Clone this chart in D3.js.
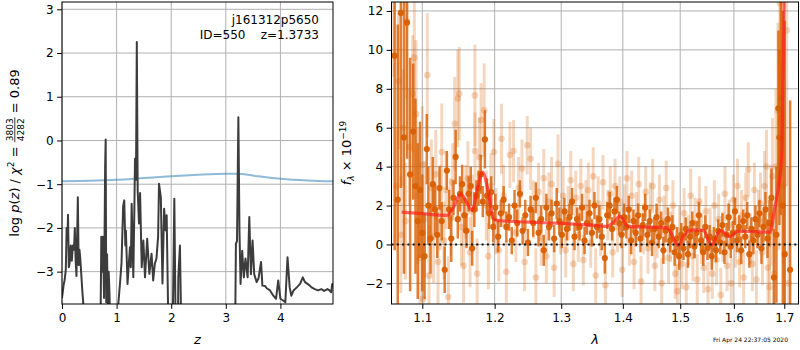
<!DOCTYPE html>
<html>
<head>
<meta charset="utf-8">
<script src="https://cdn.jsdelivr.net/npm/d3@7"></script>
<style>
  html, body { margin: 0; padding: 0; background: #fff; }
  svg { display: block; font-family: "DejaVu Sans", sans-serif; }
</style>
</head>
<body>
<svg id="fig" width="800" height="350"></svg>
<script>
// ---------- redshift fit: log p(z) and normalised chi-square ----------
const zGrid = [
  0.00,0.03,0.05,0.07,0.085,0.10,0.11,0.125,0.14,0.16,
  0.18,0.20,0.22,0.235,0.25,0.265,0.29,0.305,0.32,0.335,
  0.35,0.37,0.40,0.45,0.55,0.65,0.70,0.72,0.735,0.75,
  0.77,0.79,0.80,0.81,0.825,0.84,0.855,0.87,0.885,0.92,
  0.98,1.03,1.06,1.09,1.12,1.14,1.16,1.17,1.20,1.225,
  1.245,1.26,1.276,1.29,1.306,1.325,1.337,1.355,1.37,1.386,
  1.41,1.43,1.46,1.49,1.52,1.56,1.60,1.64,1.67,1.70,
  1.73,1.76,1.777,1.81,1.84,1.87,1.90,1.917,1.94,1.96,
  2.02,2.045,2.057,2.075,2.09,2.12,2.13,2.16,2.175,2.19,
  2.50,2.90,3.15,3.175,3.185,3.205,3.23,3.25,3.27,3.30,
  3.33,3.36,3.40,3.43,3.46,3.49,3.52,3.565,3.60,3.645,
  3.67,3.72,3.75,3.81,3.87,3.92,3.96,4.00,4.05,4.09,
  4.13,4.17,4.20,4.24,4.30,4.36,4.41,4.45,4.51,4.57,
  4.63,4.69,4.75,4.80,4.86,4.90,4.93,4.95,4.965
];
const logPz = [
  -3.60,-3.30,-3.18,-2.95,-2.00,-2.30,-1.70,-2.90,-2.80,-2.40,
  -2.75,-2.40,-2.50,-2.00,-2.75,-3.10,-1.30,-2.85,-2.50,-2.70,
  -3.00,-3.40,-3.90,-5.0,-8.0,-8.0,-5.0,-2.20,-3.00,-2.20,
  -3.60,-0.60,0.02,-3.70,-2.60,-3.80,-3.00,-3.50,-4.5,-7.0,
  -6.0,-3.75,-3.30,-2.80,-1.50,-1.37,-2.40,-2.06,-3.28,-2.80,
  -2.44,-2.90,-1.45,-2.20,-3.13,-1.60,-0.42,-0.90,2.25,-1.14,
  -1.90,-1.20,-2.90,-2.29,-3.13,-2.25,-3.05,-2.59,-3.20,-2.82,
  -2.70,-2.20,-0.99,-1.30,-3.27,-1.56,-2.06,-1.71,-3.60,-5.5,
  -5.0,-2.5,-1.33,-3.5,-6.0,-5.0,-3.13,-2.40,-3.6,-6.0,
  -9.0,-9.0,-6.0,-3.8,-2.36,-2.30,0.53,-2.06,-3.28,-2.52,
  -3.13,-2.70,-3.13,-1.75,-3.06,-2.29,-3.06,-3.24,-3.15,-2.78,
  -3.32,-3.33,-3.38,-3.43,-3.55,-3.62,-3.20,-3.62,-3.66,-3.70,
  -2.67,-3.36,-3.55,-3.43,-3.36,-3.28,-3.13,-3.24,-3.29,-3.36,
  -3.40,-3.43,-3.40,-3.44,-3.40,-3.43,-3.47,-3.28,-3.35
];
const chiZ    = [0, 0.5, 1.0, 1.5, 2.0, 2.5, 3.0, 3.3, 3.6, 4.0, 4.5, 4.963];
const chiNorm = [-0.93, -0.92, -0.90, -0.86, -0.82, -0.785, -0.76, -0.765, -0.82, -0.875, -0.915, -0.935];

const zTicks = [0, 1, 2, 3, 4];
const zTickLabels = ["0", "1", "2", "3", "4"];
const pTicks = [-3, -2, -1, 0, 1, 2, 3];
const pTickLabels = ["\u22123", "\u22122", "\u22121", "0", "1", "2", "3"];

// ---------- 1D spectrum: combined (dark) and individual beams (light) ----------
const combWave = [
  1.064,1.068,1.072,1.076,1.080,1.084,1.088,1.091,
  1.094,1.097,1.100,1.103,1.106,1.108,1.111,1.114,1.117,
  1.120,1.123,1.126,1.130,1.133,1.136,1.139,1.142,1.145,1.148,
  1.151,1.154,1.157,1.160,1.163,1.166,1.168,1.171,1.174,1.177,
  1.180,1.183,1.186,1.189,1.192,1.195,1.198,1.201,1.205,1.209,
  1.213,1.217,1.221,1.225,1.229,1.233,1.237,1.241,1.245,1.249,
  1.253,1.257,1.261,1.265,1.269,1.273,1.277,1.281,1.285,1.289,
  1.293,1.297,1.301,1.305,1.309,1.313,1.317,1.321,1.325,1.329,
  1.333,1.337,1.341,1.345,1.349,1.353,1.357,1.361,1.365,1.370,
  1.374,1.378,1.382,1.386,1.390,1.394,1.398,1.402,1.406,1.410,
  1.414,1.418,1.422,1.426,1.430,1.434,1.438,1.442,1.446,1.450,
  1.454,1.458,1.462,1.466,1.470,1.474,1.478,1.482,1.486,1.490,
  1.494,1.498,1.502,1.506,1.510,1.514,1.518,1.522,1.526,1.530,
  1.534,1.538,1.542,1.546,1.550,1.554,1.558,1.562,1.566,1.570,
  1.574,1.578,1.582,1.586,1.590,1.594,1.598,1.602,1.606,1.610,
  1.614,1.618,1.622,1.626,1.630,1.634,1.638,1.642,1.646,1.650,
  1.654,1.658,1.662,1.666,1.670,1.674,1.679,1.684,1.688,1.690,
  1.693,1.697,1.701,1.712
];
const combFlux = [
  9.7,2.3,11.9,5.5,11.4,3.6,5.8,3.0,
  1.2,2.8,0.6,-0.6,4.9,2.0,0.3,3.1,1.8,
  0.5,2.9,1.2,-1.3,3.8,1.8,0.3,2.4,4.5,1.3,
  2.6,3.1,1.5,0.7,2.6,3.0,-0.2,1.8,2.5,2.9,
  3.6,2.2,5.4,2.5,1.6,2.7,0.9,1.9,0.4,1.6,
  2.3,0.9,1.4,0.2,2.0,1.1,2.6,0.7,1.5,0.1,
  1.8,1.1,2.4,0.6,1.3,-0.3,1.9,0.9,1.6,0.3,
  2.1,1.2,0.5,1.7,0.8,1.4,2.2,0.4,1.3,0.9,
  1.9,0.2,1.1,1.6,0.6,2.0,0.9,1.3,0.4,-0.7,
  1.5,2.0,0.8,1.7,2.3,1.1,0.5,1.4,0.9,1.8,
  0.2,1.2,0.6,1.5,0.3,1.0,1.9,0.5,1.2,0.1,
  0.8,1.4,0.4,1.1,-0.3,0.7,1.3,0.2,0.9,-0.4,
  0.3,-0.6,0.5,-0.2,0.8,-0.5,0.4,1.1,-0.1,0.6,
  1.5,0.2,-0.4,0.9,-0.2,0.4,-0.6,0.3,-0.3,0.7,
  0.1,1.0,-0.4,0.5,1.4,-0.1,0.6,1.7,0.2,0.9,
  -0.3,1.2,0.4,1.5,-0.5,0.8,0.2,1.3,0.5,1.6,
  -0.2,0.9,1.8,0.3,1.1,2.4,-1.7,0.5,7.0,5.5,
  7.5,2.0,-0.5,-1.3
];
const combErr = [
  10,9,9,7,7,6,3.5,4.5,
  4,3.5,3.0,2.2,1.8,2.0,1.8,1.4,1.3,
  1.2,1.1,1.0,1.2,1.0,1.0,1.2,0.9,1.4,1.0,
  0.9,1.0,0.9,0.9,0.9,1.0,0.9,0.9,0.8,0.9,
  1.0,0.8,1.5,0.9,0.8,0.8,0.8,0.7,0.8,0.7,
  0.7,0.8,0.7,0.7,0.8,0.7,0.7,0.7,0.8,0.7,
  0.7,0.7,0.8,0.7,0.7,0.8,0.7,0.7,0.7,0.7,
  0.8,0.7,0.7,0.7,0.6,0.7,0.7,0.7,0.6,0.7,
  0.7,0.7,0.6,0.7,0.7,0.7,0.6,0.7,0.7,0.8,
  0.7,0.7,0.6,0.7,0.7,0.6,0.7,0.7,0.6,0.7,
  0.7,0.6,0.7,0.6,0.7,0.6,0.7,0.6,0.6,0.7,
  0.6,0.7,0.6,0.6,0.7,0.6,0.6,0.6,0.6,0.7,
  0.6,0.7,0.6,0.6,0.6,0.7,0.6,0.6,0.6,0.6,
  0.7,0.6,0.7,0.6,0.6,0.6,0.7,0.6,0.6,0.6,
  0.6,0.6,0.6,0.6,0.7,0.6,0.6,0.7,0.6,0.6,
  0.7,0.6,0.6,0.7,0.7,0.6,0.7,0.7,0.7,0.7,
  0.8,0.8,0.9,1.0,1.2,1.5,2.5,3.5,4.0,4.5,
  6.0,10,12,8.7
];

const beamWave = [
  1.063,1.066,1.069,1.072,1.075,1.078,1.0795,1.0829,1.0874,1.0895,
  1.0917,1.094,1.097,1.100,1.101,1.103,1.1066,1.109,1.112,1.115,
  1.118,1.121,1.124,1.126,1.129,1.132,1.135,1.138,1.141,1.1437,
  1.148,1.150,1.153,1.156,1.159,1.162,1.165,1.168,1.1718,1.172,
  1.175,1.178,1.1806,1.185,1.188,1.191,1.1945,1.1989,1.202,1.206,
  1.2099,1.213,1.217,1.2222,1.2275,1.231,1.235,1.240,1.244,1.248,
  1.253,1.257,1.261,1.265,1.269,1.273,1.277,1.281,1.285,1.289,
  1.295,1.299,1.303,1.307,1.311,1.315,1.319,1.323,1.327,1.331,
  1.335,1.339,1.343,1.347,1.351,1.355,1.359,1.363,1.367,1.371,
  1.375,1.379,1.383,1.387,1.391,1.395,1.399,1.403,1.407,1.411,
  1.415,1.419,1.423,1.427,1.431,1.435,1.439,1.443,1.447,1.451,
  1.455,1.459,1.463,1.467,1.471,1.475,1.479,1.483,1.487,1.491,
  1.495,1.499,1.503,1.507,1.511,1.515,1.519,1.523,1.527,1.531,
  1.535,1.539,1.543,1.547,1.551,1.555,1.559,1.563,1.567,1.571,
  1.575,1.579,1.583,1.587,1.591,1.595,1.599,1.603,1.607,1.611,
  1.615,1.619,1.623,1.628,1.632,1.636,1.640,1.644,1.648,1.652,
  1.656,1.660,1.664,1.667,1.670,1.673,1.676,1.679,1.683,1.687,
  1.689,1.691,1.6935,1.695,1.698,1.705,1.709
];
const beamFlux = [
  12.6,3.0,8.4,0.5,6.0,1.2,11.5,5.0,7.75,9.6,
  6.7,2.5,-0.7,4.1,-2.8,1.3,8.7,-1.6,2.9,0.4,
  3.6,-0.9,1.9,4.75,0.2,2.8,-2.7,1.4,3.2,6.2,
  7.5,7.75,0.9,-1.1,2.2,3.4,-0.4,1.7,7.66,4.8,
  -1.5,4.5,6.4,6.9,2.0,-0.6,3.0,4.75,1.2,-0.3,
  5.43,2.5,-1.4,4.6,4.8,0.6,2.9,3.9,-0.9,5.1,
  4.4,1.8,-1.7,2.7,0.3,3.4,-0.6,2.2,3.1,-1.2,
  4.15,0.9,2.5,-0.3,1.6,3.3,-1.0,2.4,0.5,3.0,
  -0.8,1.9,2.8,0.1,3.5,-1.6,2.1,0.7,3.2,-2.1,
  1.5,2.6,-0.4,3.0,0.9,2.2,-1.3,1.8,3.4,0.2,
  2.5,-0.9,1.4,3.1,-1.9,0.8,2.7,-0.2,1.9,3.0,
  -1.1,0.6,2.3,-2.0,1.2,2.9,-0.7,0.4,2.0,-1.5,
  -2.4,0.7,-1.0,1.6,-2.2,0.2,2.5,-0.6,1.1,-1.8,
  2.2,0.3,-1.2,1.7,-2.3,0.6,-1.5,2.0,-0.8,1.3,
  -2.6,0.4,2.6,-1.1,1.0,-2.0,2.3,0.1,3.0,-0.9,
  1.5,-1.7,2.4,3.85,0.3,-1.0,2.8,-1.8,1.3,2.1,
  -0.4,3.0,4.0,-1.2,-2.2,1.5,3.5,-1.5,4.0,6.9,
  2.2,12.4,9.8,6.5,3.0,11.0,-2.0
];
const beamErr = [
  4,3,3.5,3,3,3,4,3,3,3.5,
  3.8,3.5,3.2,3,2.8,3,3.2,2.6,2.5,2.4,
  2.3,2.2,2.2,2.5,2.0,2.0,2.1,2.0,2.0,2.4,
  2.5,2.4,2.0,1.9,1.9,1.9,1.8,1.9,2.6,2.0,
  1.8,2.0,1.9,2.4,1.8,1.7,1.7,1.7,1.7,1.6,
  1.8,1.6,1.6,1.7,1.6,1.5,1.6,1.5,1.5,1.5,
  1.6,1.5,1.5,1.5,1.4,1.5,1.4,1.5,1.4,1.5,
  1.5,1.4,1.5,1.4,1.4,1.5,1.4,1.4,1.4,1.4,
  1.3,1.4,1.4,1.3,1.5,1.4,1.4,1.3,1.4,1.4,
  1.3,1.4,1.3,1.4,1.3,1.3,1.4,1.3,1.4,1.3,
  1.3,1.4,1.3,1.4,1.3,1.3,1.3,1.3,1.3,1.4,
  1.3,1.3,1.3,1.3,1.3,1.4,1.3,1.3,1.3,1.3,
  1.4,1.3,1.3,1.3,1.3,1.3,1.4,1.3,1.3,1.3,
  1.3,1.3,1.3,1.3,1.4,1.3,1.3,1.3,1.3,1.3,
  1.4,1.3,1.4,1.3,1.3,1.3,1.3,1.3,1.4,1.3,
  1.3,1.4,1.3,1.4,1.3,1.4,1.4,1.5,1.5,1.6,
  1.7,1.8,1.9,2.0,2.3,2.6,3.0,3.5,4.0,4.5,
  2.5,6,6,3,4,8,6
];

// best-fit template model
const modelWave = [1.073,1.100,1.133,1.141,1.152,1.160,1.168,1.175,1.1826,1.1905,
                   1.198,1.205,1.250,1.300,1.354,1.373,1.385,1.395,1.409,1.440,
                   1.476,1.4966,1.505,1.5236,1.542,1.558,1.5736,1.5925,1.608,1.640,
                   1.671,1.681,1.6947,1.697,1.700];
const modelFlux = [1.66,1.58,1.49,1.83,2.6,2.18,1.75,2.78,3.72,2.78,
                   1.32,1.23,1.15,1.08,0.98,0.93,1.15,1.44,0.93,0.89,
                   0.86,-0.05,0.4,0.75,0.72,-0.02,0.72,0.41,0.68,0.66,
                   0.63,1.92,4.49,8.0,13.0];

const waveTicks = [1.1, 1.2, 1.3, 1.4, 1.5, 1.6, 1.7];
const waveTickLabels = ["1.1", "1.2", "1.3", "1.4", "1.5", "1.6", "1.7"];
const fluxTicks = [-2, 0, 2, 4, 6, 8, 10, 12];
const fluxTickLabels = ["\u22122", "0", "2", "4", "6", "8", "10", "12"];

// ---------- drawing ----------
const svg = d3.select("#fig");
const GRID = "#b0b0b0";
const ORANGE = "#d95f02";

const pz = { x0: 62, x1: 333, y0: 2, y1: 304 };
const sp = { x0: 391.5, x1: 798.5, y0: 2, y1: 304 };

const xZ = d3.scaleLinear().domain([0, 4.963]).range([pz.x0, pz.x1]);
const yZ = d3.scaleLinear().domain([-3.74, 3.167]).range([pz.y1, pz.y0]);
const xW = d3.scaleLog().domain([1.060, 1.7293]).range([sp.x0, sp.x1]);
const yF = d3.scaleLinear().domain([-3.06, 12.46]).range([sp.y1, sp.y0]);

const defs = svg.append("defs");
[["clipZ", pz], ["clipS", sp]].forEach(([id, p]) => {
  defs.append("clipPath").attr("id", id).append("rect")
    .attr("x", p.x0).attr("y", p.y0).attr("width", p.x1 - p.x0).attr("height", p.y1 - p.y0);
});

function drawGrid(p, xs, xt, ys, yt) {
  const g = svg.append("g");
  xt.forEach(v => g.append("line")
    .attr("x1", xs(v)).attr("x2", xs(v)).attr("y1", p.y0).attr("y2", p.y1)
    .attr("stroke", GRID).attr("stroke-width", 1));
  yt.forEach(v => g.append("line")
    .attr("x1", p.x0).attr("x2", p.x1).attr("y1", ys(v)).attr("y2", ys(v))
    .attr("stroke", GRID).attr("stroke-width", 1));
}

function drawAxes(p, xs, xt, xl, ys, yt, yl) {
  const ax = svg.append("g").attr("transform", `translate(0,${p.y1})`)
    .call(d3.axisBottom(xs).tickValues(xt).tickFormat((d, i) => xl[i])
      .tickSize(4.9).tickPadding(4.5));
  const ay = svg.append("g").attr("transform", `translate(${p.x0},0)`)
    .call(d3.axisLeft(ys).tickValues(yt).tickFormat((d, i) => yl[i])
      .tickSize(4.9).tickPadding(3.5));
  [ax, ay].forEach(a => {
    a.select(".domain").remove();
    a.selectAll(".tick line").attr("stroke", "#000").attr("stroke-width", 1);
    a.selectAll(".tick text").attr("font-size", 12)
      .attr("font-family", "DejaVu Sans, sans-serif").attr("fill", "#000");
  });
  svg.append("rect").attr("x", p.x0).attr("y", p.y0)
    .attr("width", p.x1 - p.x0).attr("height", p.y1 - p.y0)
    .attr("fill", "none").attr("stroke", "#000").attr("stroke-width", 1);
}

// rich text laid out piece by piece along a baseline (used for rotated labels)
function richText(g, pieces, base) {
  let x = 0;
  pieces.forEach(p => {
    if (p.frac) {
      const n = g.append("text").attr("font-size", p.size).text(p.frac[0]);
      const d = g.append("text").attr("font-size", p.size).text(p.frac[1]);
      const w = Math.max(n.node().getComputedTextLength(), d.node().getComputedTextLength()) + 2;
      n.attr("x", x + w / 2).attr("y", p.numY).attr("text-anchor", "middle");
      d.attr("x", x + w / 2).attr("y", p.denY).attr("text-anchor", "middle");
      g.append("line").attr("x1", x).attr("x2", x + w)
        .attr("y1", p.barY).attr("y2", p.barY)
        .attr("stroke", "#000").attr("stroke-width", 0.8);
      x += w;
    } else {
      const t = g.append("text").attr("x", x).attr("y", p.dy || 0)
        .attr("font-size", p.size || base)
        .attr("font-style", p.italic ? "italic" : null)
        .style("white-space", "pre").text(p.text);
      x += t.node().getComputedTextLength();
    }
  });
  return x;
}

function rotatedLabel(cx, cy, pieces, base) {
  const g = svg.append("g").attr("transform", `translate(${cx},${cy}) rotate(-90)`);
  const inner = g.append("g");
  const w = richText(inner, pieces, base);
  inner.attr("transform", `translate(${-w / 2},0)`);
}

// ----- left panel: p(z) -----
drawGrid(pz, xZ, zTicks, yZ, pTicks);

const zClip = svg.append("g").attr("clip-path", "url(#clipZ)");
zClip.append("path")
  .datum(chiZ.map((z, i) => [z, chiNorm[i]]))
  .attr("d", d3.line().x(d => xZ(d[0])).y(d => yZ(d[1])).curve(d3.curveCatmullRom))
  .attr("fill", "none").attr("stroke", "#1f77b4").attr("stroke-opacity", 0.5)
  .attr("stroke-width", 2);
zClip.append("path")
  .datum(zGrid.map((z, i) => [z, logPz[i]]))
  .attr("d", d3.line().x(d => xZ(d[0])).y(d => yZ(d[1])))
  .attr("fill", "none").attr("stroke", "#3c3c3c").attr("stroke-width", 2)
  .attr("stroke-linejoin", "round");

drawAxes(pz, xZ, zTicks, zTickLabels, yZ, pTicks, pTickLabels);

svg.append("text").attr("x", 319).attr("y", 24).attr("text-anchor", "end")
  .attr("font-size", 12).text("j161312p5650");
svg.append("text").attr("x", 319).attr("y", 39).attr("text-anchor", "end")
  .attr("font-size", 12).style("white-space", "pre").text("ID=550    z=1.3733");

svg.append("text").attr("x", (pz.x0 + pz.x1) / 2).attr("y", 344)
  .attr("text-anchor", "middle").attr("font-size", 13).attr("font-style", "italic").text("z");

rotatedLabel(19, 153, [
  { text: "log " },
  { text: "p", italic: true },
  { text: "(" },
  { text: "z", italic: true },
  { text: ") / " },
  { text: "\u03c7", italic: true },
  { text: "2", size: 9, dy: -5 },
  { text: " = " },
  { frac: ["3803", "4282"], size: 9, numY: -6.5, denY: 4.5, barY: -4.2 },
  { text: " = 0.89" }
], 13);

// ----- right panel: spectrum -----
drawGrid(sp, xW, waveTicks, yF, fluxTicks);

const sClip = svg.append("g").attr("clip-path", "url(#clipS)");

// individual beams
const beams = beamWave.map((w, i) => ({ w, f: beamFlux[i], e: beamErr[i] }));
sClip.append("g").selectAll("line").data(beams).join("line")
  .attr("x1", d => xW(d.w)).attr("x2", d => xW(d.w))
  .attr("y1", d => yF(d.f - d.e)).attr("y2", d => yF(d.f + d.e))
  .attr("stroke", ORANGE).attr("stroke-opacity", 0.25).attr("stroke-width", 3);
sClip.append("g").selectAll("circle").data(beams).join("circle")
  .attr("cx", d => xW(d.w)).attr("cy", d => yF(d.f)).attr("r", 3.3)
  .attr("fill", ORANGE).attr("fill-opacity", 0.25);

// combined spectrum
const comb = combWave.map((w, i) => ({ w, f: combFlux[i], e: combErr[i] }));
sClip.append("g").selectAll("line").data(comb).join("line")
  .attr("x1", d => xW(d.w)).attr("x2", d => xW(d.w))
  .attr("y1", d => yF(d.f - d.e)).attr("y2", d => yF(d.f + d.e))
  .attr("stroke", ORANGE).attr("stroke-opacity", 0.8).attr("stroke-width", 2.5);
sClip.append("g").selectAll("circle").data(comb).join("circle")
  .attr("cx", d => xW(d.w)).attr("cy", d => yF(d.f)).attr("r", 3.1)
  .attr("fill", ORANGE).attr("fill-opacity", 0.95);

// template model
sClip.append("path")
  .datum(modelWave.map((w, i) => [w, modelFlux[i]]))
  .attr("d", d3.line().x(d => xW(d[0])).y(d => yF(d[1])).curve(d3.curveMonotoneX))
  .attr("fill", "none").attr("stroke", "#ff1a1a").attr("stroke-opacity", 0.65)
  .attr("stroke-width", 3.2).attr("stroke-linejoin", "round");

// zero level
sClip.append("line")
  .attr("x1", sp.x0).attr("x2", sp.x1).attr("y1", yF(0)).attr("y2", yF(0))
  .attr("stroke", "#111").attr("stroke-width", 2).attr("stroke-dasharray", "2,3.3");

drawAxes(sp, xW, waveTicks, waveTickLabels, yF, fluxTicks, fluxTickLabels);

svg.append("text").attr("x", (sp.x0 + sp.x1) / 2).attr("y", 344)
  .attr("text-anchor", "middle").attr("font-size", 13).attr("font-style", "italic").text("\u03bb");

rotatedLabel(351, 153, [
  { text: "f", italic: true },
  { text: "\u03bb", italic: true, size: 9, dy: 3 },
  { text: " \u00d7 10" },
  { text: "\u221219", size: 9, dy: -5.5 }
], 13);

// timestamp
svg.append("text").attr("x", 788).attr("y", 342).attr("text-anchor", "end")
  .attr("font-size", 6).text("Fri Apr 24 22:37:05 2020");
</script>
</body>
</html>
